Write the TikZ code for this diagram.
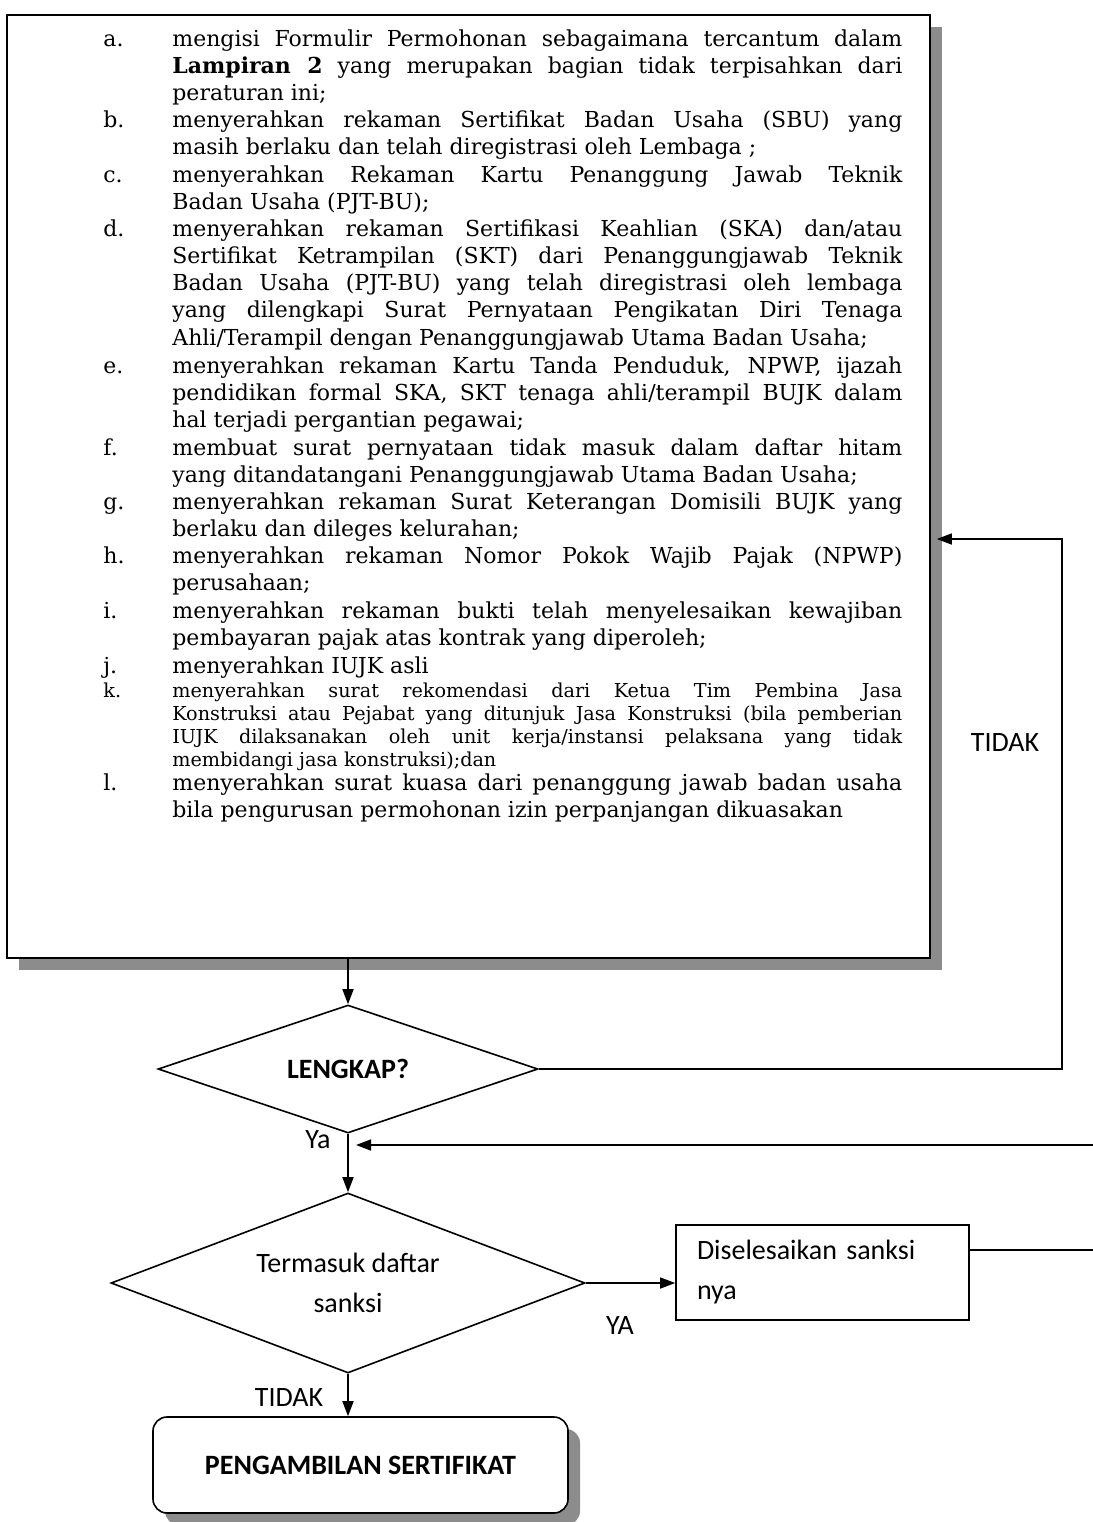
\documentclass[tikz,border=0pt]{standalone}
\usepackage{fontspec}
\setmainfont{Carlito}
\newfontfamily\serifdv{DejaVu Serif}
\usetikzlibrary{shapes.geometric,arrows.meta,shadows}

\newcommand\butirfont{\serifdv\fontsize{11}{13.65}\selectfont}
\newcommand\kecilfont{\serifdv\fontsize{9.6}{11.6}\selectfont}
\newcommand\alurfont{\fontsize{14}{20}\selectfont}
\hyphenpenalty=10000
\exhyphenpenalty=10000
\tolerance=10000

\tikzset{
  garis/.style={line width=0.8pt},
  panah/.style={garis,-{Triangle[length=7.5pt,width=5.5pt]}},
  huruf/.style={anchor=base west,inner sep=0pt,font=\butirfont},
  butir/.style={anchor=base west,inner sep=0pt,font=\butirfont},
  bayang/.style={drop shadow={shadow xshift=6pt,shadow yshift=-6pt,fill=black!45,opacity=1}},
  belah/.style={draw,garis,shape=diamond,aspect=3,inner sep=0pt,font=\alurfont,align=center},
  proses/.style={draw,garis,inner xsep=10.5pt,font=\alurfont,align=left},
  ket/.style={font=\alurfont,inner sep=1pt}
}

\begin{document}
\begin{tikzpicture}[x=0.5pt,y=-0.5pt]
\useasboundingbox (0,0) rectangle (1093,1522);
% kotak persyaratan
\node[draw,garis,fill=white,bayang,minimum width=461.5pt,minimum height=471.5pt] (syarat) at (468.5,486.5) {};
\node[huruf] (la) at (103,46) {a.};
\node[butir] (ta) at (172,46) {\parbox[t]{365pt}{mengisi Formulir Permohonan sebagaimana tercantum dalam\linebreak \textbf{Lampiran 2} yang merupakan bagian tidak terpisahkan dari\linebreak peraturan ini;}};
\node[huruf] (lb) at (103,127) {b.};
\node[butir] (tb) at (172,127) {\parbox[t]{365pt}{menyerahkan rekaman Sertifikat Badan Usaha (SBU) yang\linebreak masih berlaku dan telah diregistrasi oleh Lembaga ;}};
\node[huruf] (lc) at (103,182) {c.};
\node[butir] (tc) at (172,182) {\parbox[t]{365pt}{menyerahkan Rekaman Kartu Penanggung Jawab Teknik\linebreak Badan Usaha (PJT-BU);}};
\node[huruf] (ld) at (103,236) {d.};
\node[butir] (td) at (172,236) {\parbox[t]{365pt}{menyerahkan rekaman Sertifikasi Keahlian (SKA) dan/atau\linebreak Sertifikat Ketrampilan (SKT) dari Penanggungjawab Teknik\linebreak Badan Usaha (PJT-BU) yang telah diregistrasi oleh lembaga\linebreak yang dilengkapi Surat Pernyataan Pengikatan Diri Tenaga\linebreak Ahli/Terampil dengan Penanggungjawab Utama Badan Usaha;}};
\node[huruf] (le) at (103,373) {e.};
\node[butir] (te) at (172,373) {\parbox[t]{365pt}{menyerahkan rekaman Kartu Tanda Penduduk, NPWP, ijazah\linebreak pendidikan formal SKA, SKT tenaga ahli/terampil BUJK dalam\linebreak hal terjadi pergantian pegawai;}};
\node[huruf] (lf) at (103,455) {f.};
\node[butir] (tf) at (172,455) {\parbox[t]{365pt}{membuat surat pernyataan tidak masuk dalam daftar hitam\linebreak yang ditandatangani Penanggungjawab Utama Badan Usaha;}};
\node[huruf] (lg) at (103,509) {g.};
\node[butir] (tg) at (172,509) {\parbox[t]{365pt}{menyerahkan rekaman Surat Keterangan Domisili BUJK yang\linebreak berlaku dan dileges kelurahan;}};
\node[huruf] (lh) at (103,563) {h.};
\node[butir] (th) at (172,563) {\parbox[t]{365pt}{menyerahkan rekaman Nomor Pokok Wajib Pajak (NPWP)\linebreak perusahaan;}};
\node[huruf] (li) at (103,618) {i.};
\node[butir] (ti) at (172,618) {\parbox[t]{365pt}{menyerahkan rekaman bukti telah menyelesaikan kewajiban\linebreak pembayaran pajak atas kontrak yang diperoleh;}};
\node[huruf] (lj) at (103,673) {j.};
\node[butir] (tj) at (172,673) {\parbox[t]{365pt}{menyerahkan IUJK asli}};
\node[huruf,font=\kecilfont] (lk) at (103,697) {k.};
\node[butir,font=\kecilfont] (tk) at (172,697) {\parbox[t]{365pt}{menyerahkan surat rekomendasi dari Ketua Tim Pembina Jasa\linebreak Konstruksi atau Pejabat yang ditunjuk Jasa Konstruksi (bila pemberian\linebreak IUJK dilaksanakan oleh unit kerja/instansi pelaksana yang tidak\linebreak membidangi jasa konstruksi);dan}};
\node[huruf] (ll) at (103,790) {l.};
\node[butir] (tl) at (172,790) {\parbox[t]{365pt}{menyerahkan surat kuasa dari penanggung jawab badan usaha\linebreak bila pengurusan permohonan izin perpanjangan dikuasakan}};
% alur
\node[belah,minimum width=190pt,minimum height=64pt] (lengkap) at (348,1069) {\textbf{LENGKAP?}};
\node[belah,minimum width=237pt,minimum height=90pt] (sanksi) at (348,1283) {Termasuk daftar\\sanksi};
\node[proses,minimum width=146.5pt,minimum height=47.5pt,text width=125.5pt] (selesai) at (822.5,1272.5) {Diselesaikan sanksi\\nya};
\node[draw,garis,fill=white,bayang,rounded corners=7pt,minimum width=207.5pt,minimum height=48pt,font=\alurfont] (ambil) at (360.5,1465) {\textbf{PENGAMBILAN SERTIFIKAT}};
\coordinate (balik) at (1062,539);
\coordinate (kanan1) at (1093,1145);
\coordinate (kanan2) at (1093,1250);
\draw[panah] (syarat.south -| lengkap.north) -- (lengkap.north);
\draw[panah] (lengkap.east) -| (balik) -- ([xshift=3pt]syarat.east |- balik);
\draw[panah] (lengkap.south) -- (sanksi.north);
\draw[panah,shorten >=4pt] (kanan1) -- (lengkap.south |- kanan1);
\draw[panah] (sanksi.east) -- (sanksi.east -| selesai.west);
\draw[garis] (selesai.east |- kanan2) -- (kanan2);
\draw[panah] (sanksi.south) -- (sanksi.south |- ambil.north);
\node[ket] (tidak1) at (1005,743) {TIDAK};
\node[ket] (ya1) at (318,1140) {Ya};
\node[ket] (ya2) at (620,1325) {YA};
\node[ket] (tidak2) at (289,1397) {TIDAK};
\end{tikzpicture}
\end{document}
